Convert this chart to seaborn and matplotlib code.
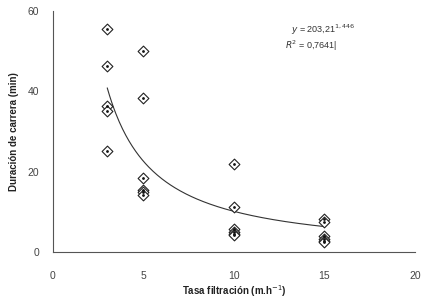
import matplotlib

matplotlib.use("Agg")

import matplotlib.pyplot as plt
import numpy as np
import pandas as pd
import seaborn as sns

# ── Data ──────────────────────────────────────────────────────────────────

RATE = [3, 3, 3, 3, 3,
        5, 5, 5, 5, 5, 5,
        10, 10, 10, 10, 10, 10,
        15, 15, 15, 15, 15, 15]
DURATION = [55.5, 46.2, 36.2, 35.1, 25.2,
            49.9, 38.3, 18.4, 15.4, 14.8, 14.1,
            21.8, 11.1, 5.7, 5.0, 4.5, 4.2,
            8.2, 7.4, 4.0, 3.3, 2.8, 2.5]

# trend curve as drawn in the picture (power law)
CURVE_A = 146.0
CURVE_B = 1.16
CURVE_X = [3, 15]

X_TICKS = [0, 5, 10, 15, 20]
Y_TICKS = [0, 20, 40, 60]

EQ_TEXT = r"$y$ = 203,21$^{1,446}$"
R2_TEXT = r"$R^2$ = 0,7641|"

# ── Plot ──────────────────────────────────────────────────────────────────

sns.set_style("white")
plt.rcParams["font.family"] = ["Liberation Sans", "DejaVu Sans"]

df = pd.DataFrame({"rate": RATE, "duration": DURATION})
xs = np.linspace(CURVE_X[0], CURVE_X[1], 200)
curve = pd.DataFrame({"rate": xs, "duration": CURVE_A * xs ** (-CURVE_B)})

fig = plt.figure(figsize=(4.34, 3.01), dpi=100)
ax = fig.add_axes([0.122, 0.163, 0.834, 0.801])

sns.lineplot(data=curve, x="rate", y="duration", color="#333333",
             linewidth=0.8, ax=ax)
sns.scatterplot(data=df, x="rate", y="duration", marker="D", s=30,
                facecolor="white", edgecolor="#222222", linewidth=0.8,
                ax=ax, zorder=3)
sns.scatterplot(data=df, x="rate", y="duration", marker="o", s=4,
                color="#111111", linewidth=0, ax=ax, zorder=4)

ax.set_xlim(0, 20)
ax.set_ylim(0, 60)
ax.set_xticks(X_TICKS)
ax.set_yticks(Y_TICKS)

for side in ["top", "right"]:
    ax.spines[side].set_visible(False)
for side in ["left", "bottom"]:
    ax.spines[side].set_color("#555555")
    ax.spines[side].set_linewidth(0.8)

ax.tick_params(axis="both", direction="out", length=4, width=0.8,
               color="#555555", labelcolor="#444444", labelsize=7.5)
ax.tick_params(axis="x", pad=10)
ax.tick_params(axis="y", pad=6)

ax.set_xlabel("Tasa filtración (m.h$^{-1}$)", fontsize=7, fontweight="bold",
              color="#222222", labelpad=1)
ax.set_ylabel("Duración de carrera (min)", fontsize=7, fontweight="bold",
              color="#222222", labelpad=6)

ax.text(13.15, 55.3, EQ_TEXT, fontsize=6.5, color="#333333", va="center")
ax.text(12.8, 51.3, R2_TEXT, fontsize=6.5, color="#333333", va="center")

fig.savefig("out.png", dpi=100)
plt.close(fig)
